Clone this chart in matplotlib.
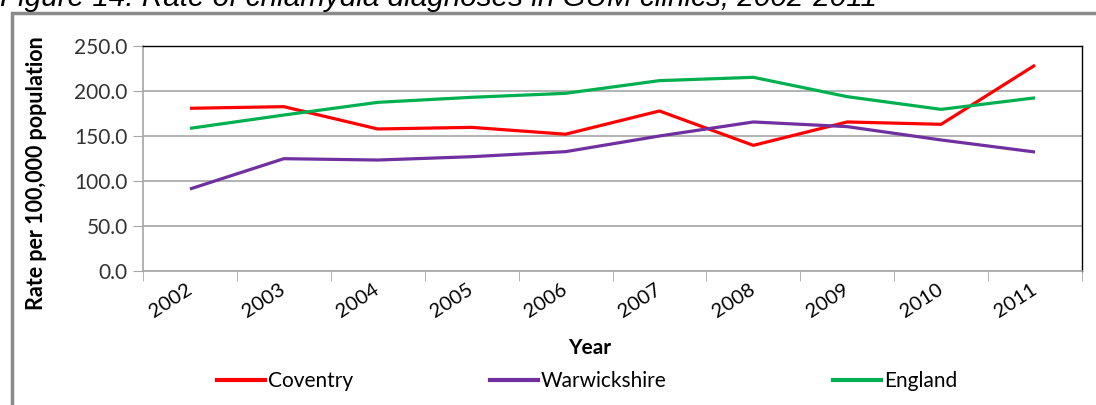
import numpy as np
import matplotlib.pyplot as plt
from matplotlib.patches import Rectangle
from matplotlib.lines import Line2D

years = ['2002', '2003', '2004', '2005', '2006', '2007', '2008', '2009', '2010', '2011']
coventry = [180.8, 182.6, 157.8, 159.6, 152.0, 177.8, 139.6, 165.6, 163.0, 228.7]
warwickshire = [91.1, 124.8, 123.3, 127.0, 132.6, 150.0, 165.6, 160.4, 145.6, 132.2]
england = [158.5, 173.3, 187.4, 193.0, 197.4, 211.5, 215.2, 193.7, 179.6, 192.4]

series_names = ['Coventry', 'Warwickshire', 'England']
colors = ['#FF0000', '#7030A0', '#00B050']

W, H = 1096, 405
fig = plt.figure(figsize=(W / 100, H / 100), dpi=100)
fig.patch.set_facecolor('white')

font = 'Lato'

# outer frame (extends past the right and bottom edges)
fig.patches.append(Rectangle((12 / W, -0.2), 1.2, (H - 13) / H + 0.2,
                             transform=fig.transFigure, fill=False,
                             edgecolor='#8a8a8a', linewidth=2.5))

# cropped caption at the very top
fig.text(0.0, 1 - 6 / H, 'Figure 14: Rate of chlamydia diagnoses in GUM clinics, 2002-2011',
         family='Liberation Sans', style='italic', fontsize=21.3, va='baseline', ha='left')

ax = fig.add_axes([143 / W, 1 - 271 / H, (1082 - 143) / W, (271 - 46) / H])
x = np.arange(len(years))
for vals, name, c in zip([coventry, warwickshire, england], series_names, colors):
    ax.plot(x, vals, color=c, linewidth=2.3, label=name, solid_capstyle='butt')

ax.set_xlim(-0.5, len(years) - 0.5)
ax.set_ylim(0, 250)
ax.set_yticks(np.arange(0, 251, 50))
ax.set_yticklabels([f'{v:.1f}' for v in np.arange(0, 251, 50)], family=font, fontsize=15, color='#333333')
ax.yaxis.grid(True, color='#a6a6a6', linewidth=1.2)
ax.set_axisbelow(True)

ax.set_xticks(x)
ax.set_xticklabels(years, rotation=33, ha='right', va='center', rotation_mode='anchor',
                   family=font, fontsize=14.5)
ax.set_xticks(np.arange(-0.5, len(years), 1), minor=True)
ax.tick_params(axis='x', which='major', length=0, pad=12)
ax.tick_params(axis='x', which='minor', length=7, color='#a6a6a6', direction='out')
ax.tick_params(axis='y', length=7, color='#a6a6a6', pad=4)

for s in ['left', 'bottom']:
    ax.spines[s].set_color('#a6a6a6')
    ax.spines[s].set_linewidth(1.2)
for s in ['top', 'right']:
    ax.spines[s].set_color('black')
    ax.spines[s].set_linewidth(1)

fig.text(37 / W, 1 - 173 / H, 'Rate per 100,000 population', rotation=90,
         family=font, fontweight='bold', fontsize=15.5, ha='center', va='center')
fig.text(590 / W, 1 - 348 / H, 'Year', family=font, fontweight='bold', fontsize=15,
         ha='center', va='center')

# legend entries, one per series, placed like the original
legend_x = [217, 490, 833]
for name, c, lx in zip(series_names, colors, legend_x):
    fig.legend([Line2D([], [], color=c, linewidth=3)], [name], loc='center left',
               bbox_to_anchor=(lx / W, 1 - 381 / H), frameon=False, borderaxespad=0,
               borderpad=0, handlelength=2.3, handletextpad=0.15,
               prop={'family': font, 'size': 15})

fig.savefig('out.png', dpi=100)
